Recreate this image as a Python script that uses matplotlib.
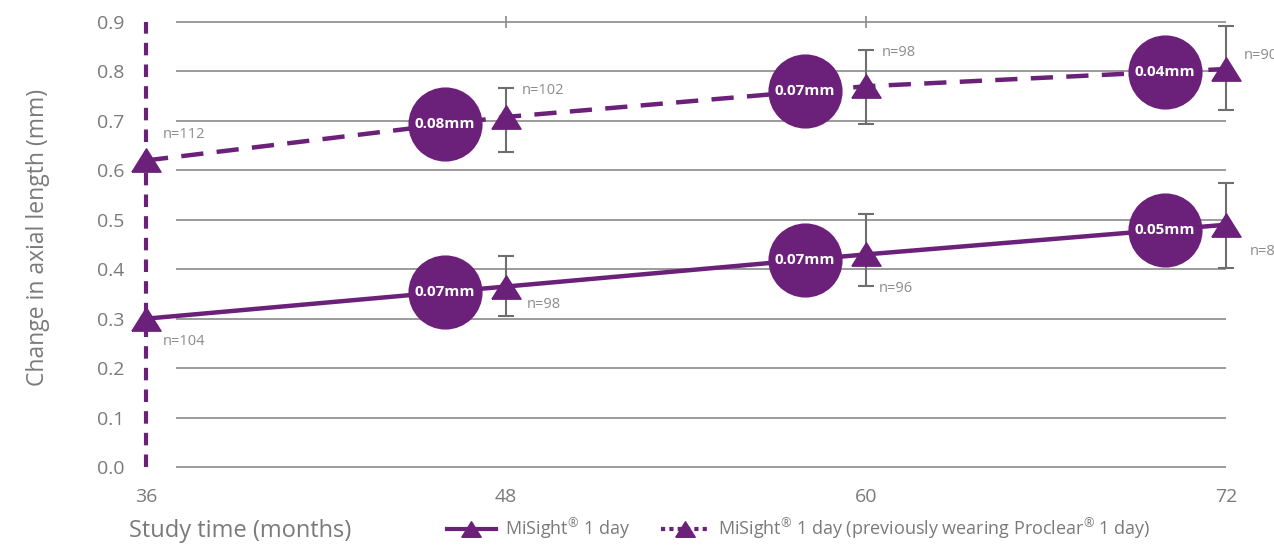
import matplotlib
matplotlib.use("Agg")
import matplotlib.pyplot as plt
from matplotlib.lines import Line2D
import numpy as np

plt.rcParams['font.family'] = ['Open Sans', 'DejaVu Sans']

# --- Datos ---
meses = [36, 48, 60, 72]
cambio_misight = [0.30, 0.365, 0.43, 0.49]
err_bajo_misight = [None, 0.305, 0.366, 0.402]
err_alto_misight = [None, 0.427, 0.511, 0.574]
n_misight = ["n=104", "n=98", "n=96", "n=88"]

cambio_proclear = [0.62, 0.708, 0.77, 0.805]
err_bajo_proclear = [None, 0.637, 0.694, 0.722]
err_alto_proclear = [None, 0.766, 0.844, 0.892]
n_proclear = ["n=112", "n=102", "n=98", "n=90"]

# progresión anual mostrada en los círculos
meses_circulo = [46, 58, 70]
prog_misight = ["0.07mm", "0.07mm", "0.05mm"]
prog_proclear = ["0.08mm", "0.07mm", "0.04mm"]

y_ticks = [0.0, 0.1, 0.2, 0.3, 0.4, 0.5, 0.6, 0.7, 0.8, 0.9]

# --- Estilo ---
morado = '#6B2079'
gris_texto = '#7a7a7a'
gris_linea = '#8a8a8a'
gris_error = '#6e6e6e'
tri = [(-1, -0.8), (1, -0.8), (0, 0.8), (-1, -0.8)]

fig = plt.figure(figsize=(12.74, 5.48), dpi=100)
ax = fig.add_axes([131 / 1274, 66 / 548, 1143 / 1274, 482 / 548])
ax.set_xlim(35.5, 73.6)
ax.set_ylim(-0.0303, 0.9445)
for s in ax.spines.values():
    s.set_visible(False)

# rejilla horizontal
ax.hlines(y_ticks, 37, 72, color=gris_linea, lw=1.2, zorder=1)
ax.vlines([48, 60], 0.888, 0.912, color=gris_linea, lw=1.2, zorder=1)

# línea vertical de inicio
ax.vlines(36, 0, 0.9, color=morado, lw=3, linestyles=(0, (3, 2.2)), zorder=2)

# barras de error
def barras(y, bajo, alto):
    for x, yv, b, a in zip(meses, y, bajo, alto):
        if b is None:
            continue
        ax.errorbar([x], [yv], yerr=[[yv - b], [a - yv]], fmt='none',
                    ecolor=gris_error, elinewidth=1.5, capsize=6, capthick=1.5, zorder=3)

barras(cambio_misight, err_bajo_misight, err_alto_misight)
barras(cambio_proclear, err_bajo_proclear, err_alto_proclear)

# series
ax.plot(meses, cambio_misight, color=morado, lw=3.2, zorder=4)
ax.plot(meses, cambio_proclear, color=morado, lw=3.2, linestyle=(0, (5, 3)), zorder=4)
ax.plot(meses, cambio_misight, linestyle='none', marker=tri, markersize=21, color=morado, zorder=6)
ax.plot(meses, cambio_proclear, linestyle='none', marker=tri, markersize=21, color=morado, zorder=6)

# círculos con la progresión
for serie, etiquetas in [(cambio_misight, prog_misight), (cambio_proclear, prog_proclear)]:
    yc = np.interp(meses_circulo, meses, serie)
    ax.scatter(np.array(meses_circulo) - 0.05, yc, s=2850, color=morado, zorder=5, linewidths=0)
    for x, yv, t in zip(meses_circulo, yc, etiquetas):
        ax.text(x - 0.05, yv, t, color='white', fontsize=11, fontweight='bold',
                ha='center', va='center', zorder=7)

# etiquetas n
desp_misight = [(12, -16.5), (15, -13), (9.5, -24.5), (17, -19)]
desp_proclear = [(12, 19), (11.5, 19), (11, 24), (13, 10)]
for serie, nombres, desp in [(cambio_misight, n_misight, desp_misight),
                             (cambio_proclear, n_proclear, desp_proclear)]:
    for x, yv, t, d in zip(meses, serie, nombres, desp):
        ax.annotate(t, (x, yv), xytext=d, textcoords='offset points',
                    color='#8c8c8c', fontsize=10.5, ha='left', va='center')

# ejes
ax.set_yticks(y_ticks)
ax.set_yticklabels([f"{v:.1f}" for v in y_ticks])
ax.set_xticks(meses)
ax.tick_params(axis='both', length=0, labelsize=14, labelcolor=gris_texto)
ax.tick_params(axis='y', pad=5)
ax.tick_params(axis='x', pad=4)

fig.text(38 / 1274, 1 - 237 / 548, "Change in axial length (mm)", rotation=90,
         ha='center', va='center', fontsize=16.5, color=gris_texto)
fig.text(129 / 1274, 1 - 531 / 548, "Study time (months)", ha='left', va='center',
         fontsize=17, color=gris_texto)

# leyenda
h1 = Line2D([], [], color=morado, lw=3, marker=tri, markersize=14)
h2 = Line2D([], [], color=morado, lw=3, linestyle=(0, (1, 1)), marker=tri, markersize=14)
fig.legend([h1, h2],
           [r"MiSight$^{\mathregular{®}}$ 1 day",
            r"MiSight$^{\mathregular{®}}$ 1 day (previously wearing Proclear$^{\mathregular{®}}$ 1 day)"],
           loc='center left', bbox_to_anchor=(447 / 1274, 19 / 548), ncol=2, frameon=False,
           fontsize=13, labelcolor=gris_texto, handlelength=2.7, handletextpad=0.5,
           columnspacing=1.7, borderaxespad=0, borderpad=0)

fig.savefig("out.png", dpi=100)
